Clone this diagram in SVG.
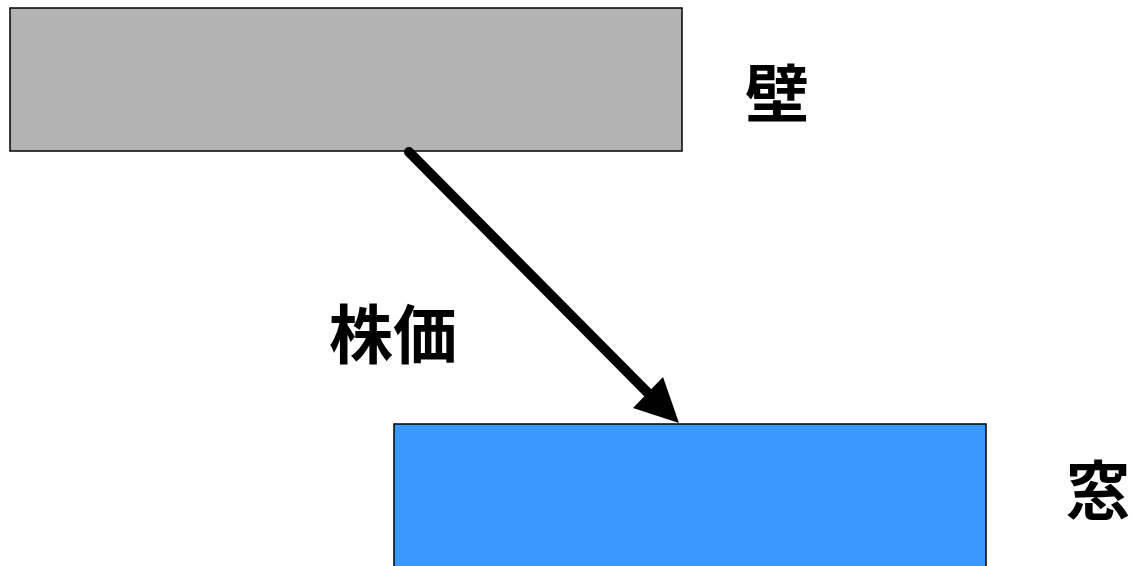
<svg xmlns="http://www.w3.org/2000/svg" width="1133" height="566" viewBox="0 0 1133 566">
<style>
.lbl{font-family:"Noto Sans CJK JP","Noto Sans CJK SC",sans-serif;font-weight:bold;font-size:64px;fill:#000}
.box{stroke:#000;stroke-width:1.5}
</style>
<rect width="1133" height="566" fill="#fff"/>
<g id="wall">
<rect class="box" x="10" y="8" width="672" height="143" fill="#b3b3b3"/>
<text class="lbl" x="745" y="117">壁</text>
</g>
<g id="window">
<rect class="box" x="394" y="424" width="592" height="160" fill="#3999fd"/>
<text class="lbl" x="1066" y="514">窓</text>
</g>
<g id="connectors">
<line x1="409" y1="152" x2="650" y2="395" stroke="#000" stroke-width="10" stroke-linecap="round"/>
<polygon points="679,423 633,408 663,377" fill="#000"/>
<text class="lbl" x="329" y="358">株価</text>
</g>
</svg>
